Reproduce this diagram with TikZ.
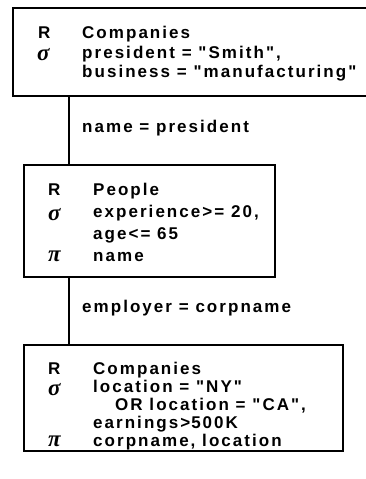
\documentclass[tikz,border=0pt]{standalone}
\usepackage{fontspec}
\newfontfamily\labelfont{Liberation Sans Bold}[Ligatures=TeXOff, LetterSpace=12]
\newfontfamily\greekfont{Liberation Serif Bold Italic}

\tikzset{
  relbox/.style={draw, line width=1.6pt, inner sep=0pt, anchor=north west},
  op/.style={anchor=base west, inner sep=0pt, font=\labelfont\fontsize{17}{19}\selectfont},
  greek/.style={anchor=base west, inner sep=0pt, text height=8pt, text depth=0pt,
    font=\greekfont\fontsize{23}{25}\selectfont},
  txt/.style={anchor=base west, inner sep=0pt, font=\labelfont\fontsize{17}{19}\selectfont},
  link/.style={line width=1.8pt},
}

\begin{document}
\begin{tikzpicture}[x=1pt,y=-1pt]
\useasboundingbox (0,0) rectangle (366,479);

% Companies owned by Smith
\node[relbox, minimum width=360pt, minimum height=88pt] (boxA) at (12,7) {};
\node[op] (opA1) at (38,38) {R};
\node[greek] (opA2) at (37,60) {σ};
\node[txt] (txA1) at (82,38) {Companies};
\node[txt] (txA2) at (82,58) {president = "Smith",};
\node[txt] (txA3) at (82,77) {business = "manufacturing"};

% People
\node[relbox, minimum width=251pt, minimum height=112pt] (boxB) at (23,164) {};
\node[op] (opB1) at (48,195) {R};
\node[greek] (opB2) at (48,220) {σ};
\node[greek] (opB3) at (48,261) {π};
\node[txt] (txB1) at (93,195) {People};
\node[txt] (txB2) at (93,217) {experience\hspace{2pt}>= 20,};
\node[txt] (txB3) at (93,239) {age\hspace{2pt}<= 65};
\node[txt] (txB4) at (93,261) {name};

% Companies by location
\node[relbox, minimum width=319pt, minimum height=106pt] (boxC) at (23,344) {};
\node[op] (opC1) at (48,374) {R};
\node[greek] (opC2) at (48,395) {σ};
\node[greek] (opC3) at (48,446) {π};
\node[txt] (txC1) at (93,374) {Companies};
\node[txt] (txC2) at (93,392) {location = "NY"};
\node[txt] (txC3) at (115,410) {OR location = "CA",};
\node[txt] (txC4) at (93,428) {earnings\hspace{2pt}>\hspace{1pt}500K};
\node[txt] (txC5) at (93,446) {corpname, location};

% joins
\coordinate (jAB) at (69,95);
\coordinate (jBC) at (69,276);
\draw[link] (jAB) -- (jAB |- boxB.north);
\draw[link] (jBC) -- (jBC |- boxC.north);
\node[txt] (lnAB) at (82,132) {name = president};
\node[txt] (lnBC) at (82,312) {employer = corpname};
\end{tikzpicture}
\end{document}
